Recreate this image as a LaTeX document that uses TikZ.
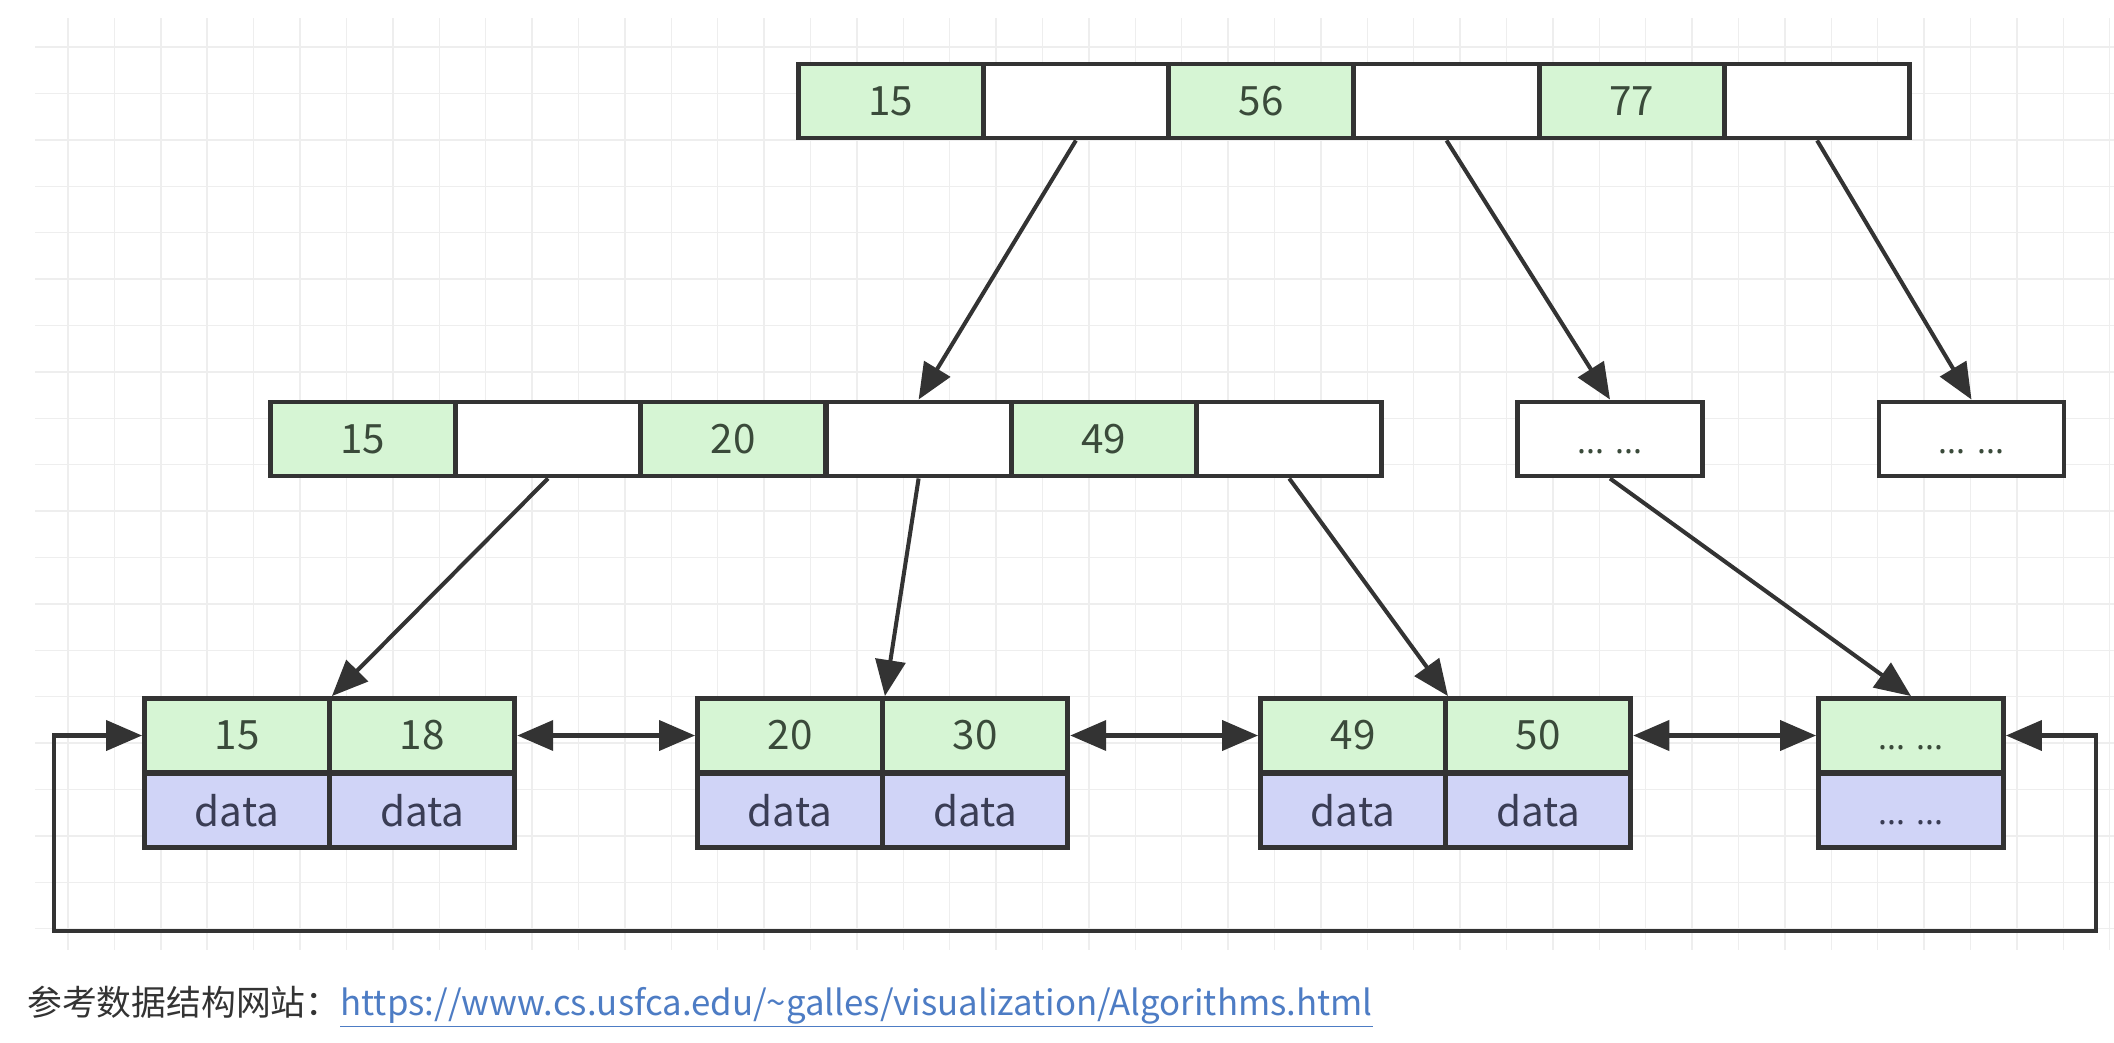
\documentclass[tikz,border=0pt]{standalone}
\usepackage{fontspec}
\newfontfamily\cjk{Noto Sans CJK SC}
\newfontfamily\latin{Noto Sans}
\usetikzlibrary{arrows.meta}
\definecolor{keygreen}{HTML}{D6F5D4}
\definecolor{datablue}{HTML}{D0D4F7}
\definecolor{linegray}{HTML}{333333}
\definecolor{keytext}{HTML}{3A4A3A}
\definecolor{datatext}{HTML}{3A3D55}
\definecolor{gridgray}{HTML}{EEEEEE}
\definecolor{urlblue}{HTML}{4D7CC4}
\newcommand\dotsdots{\vphantom{0}{\latin\fontsize{19}{23}\selectfont ... ...}}
\begin{document}
\begin{tikzpicture}[x=0.02cm,y=-0.02cm,
  >={Triangle[length=0.72cm,width=0.6cm]},
  cell/.style={draw=linegray,line width=2.8pt,minimum width=3.7cm,
    minimum height=1.48cm,inner sep=0pt,font=\cjk\fontsize{23}{27}\selectfont},
  key/.style={cell,fill=keygreen,text=keytext},
  ptr/.style={cell,fill=white,text=keytext},
  rec/.style={cell,fill=datablue,text=datatext},
  link/.style={draw=linegray,line width=2.3pt}]
\useasboundingbox (0,0) rectangle (2114,1042);
% grid
\foreach \gx in {0,...,44}
  \draw[gridgray,line width=0.8pt] ({68+46.4*\gx},18) -- ({68+46.4*\gx},950);
\foreach \gy in {0,...,19}
  \draw[gridgray,line width=0.8pt] (35,{47+46.4*\gy}) -- (2114,{47+46.4*\gy});
% root
\foreach \i/\t/\s in {1/15/key,2//ptr,3/56/key,4//ptr,5/77/key,6//ptr}
  \node[\s] (r\i) at ({890.6+185.3*(\i-1)},101) {\t};
% inner level
\foreach \i/\t/\s in {1/15/key,2//ptr,3/20/key,4//ptr,5/49/key,6//ptr}
  \node[\s] (m\i) at ({362.7+185.3*(\i-1)},439) {\t};
\node[ptr] (d1) at (1610,439) {\dotsdots};
\node[ptr] (d2) at (1971.5,439) {\dotsdots};
% leaves
\foreach \j/\x/\a/\b in {1/237/15/18,2/790/20/30,3/1353/49/50} {
  \node[key] (kl\j) at (\x,735.5) {\a};
  \node[key] (kr\j) at ({\x+185.3},735.5) {\b};
  \node[rec] (dl\j) at (\x,810.5) {data};
  \node[rec] (dr\j) at ({\x+185.3},810.5) {data};
}
\node[key] (kl4) at (1911,735.5) {\dotsdots};
\node[rec] (dl4) at (1911,810.5) {\dotsdots};
% tree links
\draw[link,->] (r2.south) -- (m4.north);
\draw[link,->] (r4.south) -- (d1.north);
\draw[link,->] (r6.south) -- (d2.north);
\draw[link,->] (m2.south) -- (kl1.north east);
\draw[link,->] (m4.south) -- (kl2.north east);
\draw[link,->] (m6.south) -- (kl3.north east);
\draw[link,->] (d1.south) -- (kl4.north);
% leaf list
\draw[link,<->] (kr1) -- (kl2);
\draw[link,<->] (kr2) -- (kl3);
\draw[link,<->] (kr3) -- (kl4);
\coordinate (loopl) at (54,931);
\coordinate (loopr) at (2096,931);
\draw[link,<->] (kl1.west) -| (loopl) -- (loopr) |- (kl4.east);
% source
\node[anchor=west,inner sep=0pt,text=linegray,font=\cjk\fontsize{19.8}{23}\selectfont]
  (src) at (27,1007) {参考数据结构网站：\textcolor{urlblue}{\underline{https://www.cs.usfca.edu/\textasciitilde galles/visualization/Algorithms.html}}};
\end{tikzpicture}
\end{document}
